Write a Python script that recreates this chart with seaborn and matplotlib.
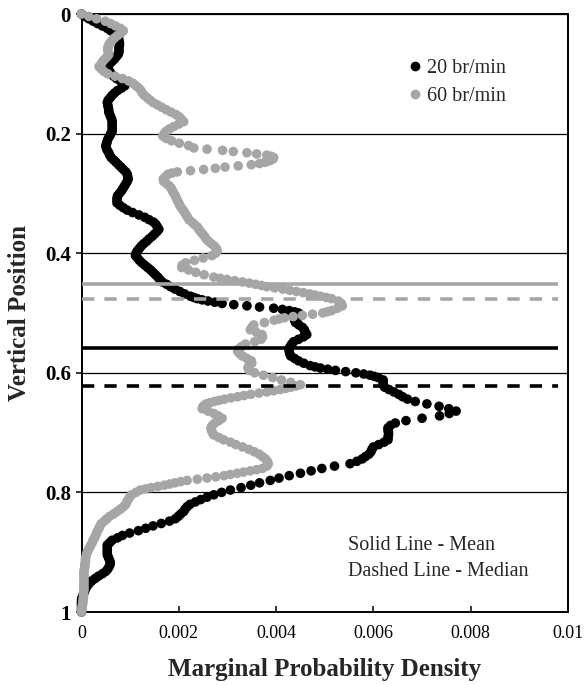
import numpy as np
import pandas as pd
import matplotlib
matplotlib.use("Agg")
import matplotlib.pyplot as plt
import seaborn as sns
from matplotlib.lines import Line2D

# ---------------- data ----------------
rates = ["20 br/min", "60 br/min"]

# marginal probability density, sampled on evenly spaced vertical-position bins (0 = top, 1 = bottom)
density_20 = [
    0.0, 0.00006, 0.00015, 0.00024, 0.00033, 0.00043, 0.00053, 0.00060, 0.00068, 0.00073, 0.00076, 0.00077, 0.00078, 0.00078, 0.00077, 0.00077, 0.00077, 0.00075, 0.00071, 0.00067, 0.00062, 0.00057, 0.00054, 0.00055, 0.00058,
    0.00061, 0.00066, 0.00072, 0.00080, 0.00088, 0.00089, 0.00082, 0.00074, 0.00068, 0.00063, 0.00059, 0.00055, 0.00053, 0.00054, 0.00055, 0.00056, 0.00056, 0.00058, 0.00060, 0.00062, 0.00063, 0.00063, 0.00063, 0.00063, 0.00063,
    0.00060, 0.00058, 0.00055, 0.00053, 0.00052, 0.00050, 0.00051, 0.00053, 0.00056, 0.00058, 0.00061, 0.00066, 0.00071, 0.00076, 0.00081, 0.00086, 0.00091, 0.00094, 0.00095, 0.00096, 0.00094, 0.00091, 0.00088, 0.00085, 0.00082,
    0.00078, 0.00074, 0.00073, 0.00073, 0.00073, 0.00079, 0.00086, 0.00094, 0.00105, 0.00118, 0.00130, 0.00139, 0.00148, 0.00153, 0.00156, 0.00159, 0.00155, 0.00150, 0.00145, 0.00139, 0.00134, 0.00128, 0.00123, 0.00119, 0.00115,
    0.00112, 0.00111, 0.00115, 0.00119, 0.00124, 0.00130, 0.00136, 0.00142, 0.00147, 0.00152, 0.00157, 0.00161, 0.00166, 0.00175, 0.00183, 0.00192, 0.00202, 0.00212, 0.00224, 0.00238, 0.00260, 0.00289, 0.00340, 0.00395, 0.00427,
    0.00446, 0.00449, 0.00444, 0.00438, 0.00440, 0.00447, 0.00454, 0.00458, 0.00460, 0.00463, 0.00456, 0.00446, 0.00436, 0.00432, 0.00429, 0.00426, 0.00427, 0.00428, 0.00430, 0.00438, 0.00446, 0.00457, 0.00470, 0.00491, 0.00522,
    0.00564, 0.00593, 0.00610, 0.00620, 0.00620, 0.00620, 0.00623, 0.00632, 0.00642, 0.00652, 0.00660, 0.00670, 0.00686, 0.00710, 0.00735, 0.00755, 0.00770, 0.00756, 0.00736, 0.00700, 0.00667, 0.00645, 0.00635, 0.00630, 0.00630,
    0.00631, 0.00631, 0.00630, 0.00630, 0.00622, 0.00611, 0.00600, 0.00597, 0.00595, 0.00591, 0.00584, 0.00577, 0.00566, 0.00552, 0.00520, 0.00494, 0.00472, 0.00450, 0.00427, 0.00406, 0.00388, 0.00366, 0.00348, 0.00328, 0.00306,
    0.00288, 0.00272, 0.00258, 0.00245, 0.00234, 0.00223, 0.00217, 0.00213, 0.00210, 0.00204, 0.00199, 0.00193, 0.00181, 0.00164, 0.00147, 0.00132, 0.00117, 0.00099, 0.00084, 0.00074, 0.00063, 0.00058, 0.00053, 0.00053, 0.00053,
    0.00053, 0.00053, 0.00055, 0.00057, 0.00059, 0.00059, 0.00057, 0.00054, 0.00050, 0.00043, 0.00035, 0.00028, 0.00021, 0.00016, 0.00012, 0.00009, 0.00007, 0.00005, 0.00003, 0.00001, 0.0, 0.0, 0.0, 0.0, 0.0,
    0.0,
]

density_60 = [
    0.0, 0.00015, 0.00031, 0.00049, 0.00060, 0.00070, 0.00080, 0.00086, 0.00081, 0.00074, 0.00068, 0.00063, 0.00059, 0.00056, 0.00054, 0.00054, 0.00055, 0.00056, 0.00052, 0.00047, 0.00043, 0.00040, 0.00036, 0.00041, 0.00046,
    0.00054, 0.00069, 0.00084, 0.00097, 0.00106, 0.00112, 0.00118, 0.00122, 0.00125, 0.00129, 0.00135, 0.00141, 0.00147, 0.00156, 0.00165, 0.00174, 0.00184, 0.00194, 0.00201, 0.00205, 0.00210, 0.00200, 0.00190, 0.00181, 0.00174,
    0.00170, 0.00167, 0.00174, 0.00185, 0.00201, 0.00220, 0.00231, 0.00290, 0.00340, 0.00381, 0.00395, 0.00390, 0.00377, 0.00349, 0.00295, 0.00251, 0.00197, 0.00178, 0.00173, 0.00168, 0.00169, 0.00175, 0.00181, 0.00185, 0.00187,
    0.00190, 0.00193, 0.00195, 0.00197, 0.00200, 0.00202, 0.00205, 0.00209, 0.00212, 0.00215, 0.00218, 0.00221, 0.00227, 0.00232, 0.00238, 0.00241, 0.00245, 0.00249, 0.00253, 0.00256, 0.00261, 0.00267, 0.00273, 0.00277, 0.00279,
    0.00276, 0.00268, 0.00250, 0.00232, 0.00214, 0.00207, 0.00206, 0.00220, 0.00235, 0.00252, 0.00272, 0.00299, 0.00331, 0.00358, 0.00381, 0.00414, 0.00442, 0.00469, 0.00491, 0.00514, 0.00528, 0.00534, 0.00536, 0.00526, 0.00514,
    0.00496, 0.00454, 0.00417, 0.00396, 0.00376, 0.00354, 0.00350, 0.00347, 0.00359, 0.00371, 0.00372, 0.00369, 0.00356, 0.00337, 0.00329, 0.00323, 0.00321, 0.00325, 0.00331, 0.00340, 0.00349, 0.00350, 0.00344, 0.00342, 0.00345,
    0.00356, 0.00374, 0.00393, 0.00411, 0.00430, 0.00450, 0.00431, 0.00408, 0.00381, 0.00348, 0.00321, 0.00294, 0.00273, 0.00256, 0.00250, 0.00248, 0.00260, 0.00272, 0.00281, 0.00289, 0.00282, 0.00274, 0.00269, 0.00266, 0.00267,
    0.00269, 0.00272, 0.00282, 0.00292, 0.00306, 0.00317, 0.00331, 0.00344, 0.00355, 0.00365, 0.00372, 0.00378, 0.00382, 0.00384, 0.00381, 0.00372, 0.00347, 0.00320, 0.00293, 0.00258, 0.00217, 0.00192, 0.00170, 0.00143, 0.00121,
    0.00112, 0.00103, 0.00099, 0.00096, 0.00093, 0.00091, 0.00086, 0.00080, 0.00073, 0.00066, 0.00058, 0.00052, 0.00047, 0.00041, 0.00038, 0.00036, 0.00033, 0.00031, 0.00029, 0.00027, 0.00024, 0.00022, 0.00019, 0.00017, 0.00014,
    0.00012, 0.00010, 0.00009, 0.00008, 0.00008, 0.00007, 0.00007, 0.00006, 0.00005, 0.00005, 0.00005, 0.00005, 0.00005, 0.00005, 0.00005, 0.00005, 0.00005, 0.00004, 0.00004, 0.00004, 0.00003, 0.00003, 0.00002, 0.00001, 0.00001,
    0.0,
]

# additional half-step bins read where the trace runs nearly horizontally
position_20_extra = [0.474, 0.478, 0.482, 0.486, 0.490, 0.494, 0.498, 0.502,
                     0.590, 0.594, 0.598, 0.602, 0.606]
density_20_extra = [0.00231, 0.00248, 0.00274, 0.00313, 0.00366, 0.00413, 0.00438, 0.00448,
                    0.00480, 0.00506, 0.00543, 0.00580, 0.00602]

position_60_extra = [0.226, 0.230, 0.234, 0.238, 0.242, 0.246, 0.250, 0.254, 0.258, 0.262, 0.266,
                     0.442, 0.446, 0.450, 0.454, 0.458, 0.462, 0.466, 0.470, 0.474, 0.498, 0.502, 0.506, 0.510,
                     0.622, 0.626, 0.630, 0.634, 0.638, 0.642, 0.646, 0.650,
                     0.762, 0.766, 0.770, 0.774, 0.778, 0.782, 0.786, 0.790, 0.794]
density_60_extra = [0.00258, 0.00312, 0.00360, 0.00390, 0.00394, 0.00384, 0.00366, 0.00322, 0.00275, 0.00224, 0.00186,
                    0.00285, 0.00315, 0.00345, 0.00370, 0.00397, 0.00428, 0.00456, 0.00480, 0.00503, 0.00505, 0.00475, 0.00435, 0.00406,
                    0.00441, 0.00420, 0.00395, 0.00365, 0.00334, 0.00307, 0.00283, 0.00264,
                    0.00360, 0.00333, 0.00306, 0.00276, 0.00238, 0.00204, 0.00181, 0.00157, 0.00132]

mean_position = [0.559, 0.451]     # 20 br/min, 60 br/min
median_position = [0.622, 0.477]   # 20 br/min, 60 br/min

x_ticks = [0, 0.002, 0.004, 0.006, 0.008, 0.01]
x_tick_labels = ["0", "0.002", "0.004", "0.006", "0.008", "0.01"]
y_ticks = [0, 0.2, 0.4, 0.6, 0.8, 1.0]
y_tick_labels = ["0", "0.2", "0.4", "0.6", "0.8", "1"]

# ---------------- build table ----------------
assert len(density_20) == len(density_60)
assert len(position_20_extra) == len(density_20_extra)
assert len(position_60_extra) == len(density_60_extra)
n = len(density_20)
grid = np.linspace(0, 1, n)

parts = []
for rate, dens, pos_x, dens_x in [(rates[0], density_20, position_20_extra, density_20_extra),
                                  (rates[1], density_60, position_60_extra, density_60_extra)]:
    d = pd.DataFrame({"density": list(dens) + list(dens_x),
                      "position": list(grid) + list(pos_x)})
    d["rate"] = rate
    parts.append(d.sort_values("position"))
df = pd.concat(parts, ignore_index=True)

colors = {rates[0]: "#000000", rates[1]: "#a6a6a6"}

# ---------------- plot ----------------
sns.set_style("white")
plt.rcParams["font.family"] = ["Liberation Serif", "DejaVu Serif"]

W, H = 584, 685
fig = plt.figure(figsize=(W / 100, H / 100), dpi=100)
left_px, right_px, top_px, bottom_px = 81.5, 568, 14, 612
ax = fig.add_axes([left_px / W, 1 - bottom_px / H, (right_px - left_px) / W, (bottom_px - top_px) / H])

sns.scatterplot(data=df, x="density", y="position", hue="rate", hue_order=rates,
                palette=colors, s=48, linewidth=0, legend=False, ax=ax,
                zorder=3, clip_on=False)

line_end = 0.0098
for rate, m, md in zip(rates, mean_position, median_position):
    ax.hlines(m, 0, line_end, color=colors[rate], lw=2.6, zorder=4)
    ax.hlines(md, 0, line_end, color=colors[rate], lw=2.6, zorder=4,
              linestyles=[(0, (3.4, 2.8))])

ax.set_xlim(0, 0.01)
ax.set_ylim(1, 0)
ax.set_xticks(x_ticks)
ax.set_xticklabels(x_tick_labels)
ax.set_yticks(y_ticks)
ax.set_yticklabels(y_tick_labels, fontweight="bold")
ax.grid(axis="y", color="black", lw=0.9)
ax.grid(axis="x", visible=False)
ax.set_axisbelow(True)

for sp in ax.spines.values():
    sp.set_visible(True)
    sp.set_color("black")
    sp.set_linewidth(1.4)

ax.tick_params(axis="y", direction="out", length=4.5, width=1.1, pad=3,
               labelsize=15, colors="black", left=True)
ax.tick_params(axis="x", direction="in", length=4, width=1.1, pad=9,
               labelsize=13, colors="black", bottom=True)

ax.set_xlabel("Marginal Probability Density", fontsize=18, fontweight="bold", labelpad=12)
ax.set_ylabel("Vertical Position", fontsize=18, fontweight="bold", labelpad=10)

handles = [Line2D([], [], marker="o", ls="", color=colors[r], markersize=6) for r in rates]
ax.legend(handles, rates, loc="upper left",
          bbox_to_anchor=((409 - left_px) / (right_px - left_px), 1 - (59 - top_px) / (bottom_px - top_px)),
          frameon=False, fontsize=14.5, handlelength=0.6, handletextpad=0.3,
          labelspacing=0.45, borderpad=0, borderaxespad=0)

ax.text((348 - left_px) / (right_px - left_px), 1 - (546 - top_px) / (bottom_px - top_px),
        "Solid Line - Mean", transform=ax.transAxes, fontsize=14.5, va="center", ha="left")
ax.text((348 - left_px) / (right_px - left_px), 1 - (571 - top_px) / (bottom_px - top_px),
        "Dashed Line - Median", transform=ax.transAxes, fontsize=14.5, va="center", ha="left")

fig.savefig("out.png", dpi=100)
